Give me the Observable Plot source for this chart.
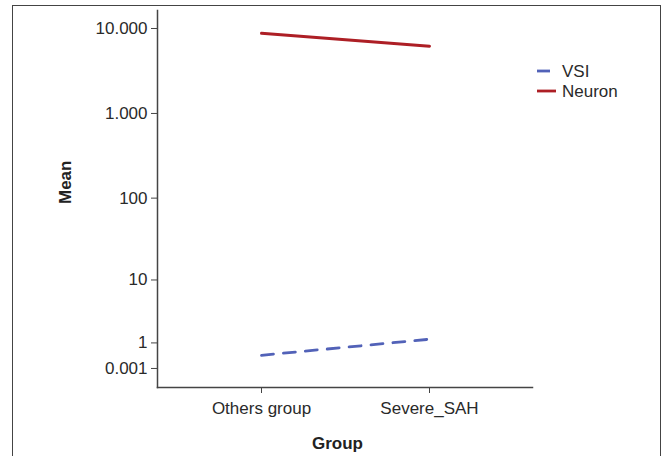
<!DOCTYPE html>
<html><head><meta charset="utf-8">
<script src="https://cdn.jsdelivr.net/npm/d3@7"></script>
<script src="https://cdn.jsdelivr.net/npm/@observablehq/plot@0.6"></script>
<style>
body{margin:0;background:#fff;font-family:"Liberation Sans",Arial,sans-serif;}
#wrap{position:relative;width:662px;height:456px;overflow:hidden;background:#fff;}
#wrap > svg{position:absolute;left:0;top:0;}
#border{position:absolute;left:12px;top:5px;width:649px;height:470px;border:1.5px solid #444;box-sizing:border-box;}
#legend{position:absolute;left:530px;top:55px;}
</style></head><body><div id="wrap"><div id="border"></div></div>
<script>
const groups = ["Others group", "Severe_SAH"];
const series = ["VSI", "Neuron"];
const vsiValues = [0.43, 1.21];
const neuronValues = [8780, 6190];
const yTicks = [0.001, 1, 10, 100, 1000, 10000];
const yTickLabels = ["0.001", "1", "10", "100", "1.000", "10.000"];
const seriesColors = ["#5262b8", "#ad1f25"];
const seriesDash = ["12 10", null];
const xLabel = "Group";
const yLabel = "Mean";

const data = [
  ...groups.map((g, i) => ({group: g, series: "VSI", value: vsiValues[i]})),
  ...groups.map((g, i) => ({group: g, series: "Neuron", value: neuronValues[i]}))
];

const font = '"Liberation Sans", Arial, sans-serif';

const chart = Plot.plot({
  width: 662, height: 456,
  marginLeft: 157, marginRight: 130, marginTop: 10, marginBottom: 69,
  style: {fontFamily: font, fontSize: "17px", color: "#2a2a2a", background: "transparent", overflow: "visible"},
  x: {type: "point", domain: groups, padding: 0.616},
  y: {type: "symlog", domain: [-0.673, 16284]},
  color: {domain: series, range: seriesColors},
  marks: [
    Plot.axisY({ticks: yTicks, tickFormat: d => yTickLabels[yTicks.indexOf(d)], tickSize: 6, tickPadding: 4, label: null, fontSize: 17, stroke: "#444"}),
    Plot.axisX({tickSize: 6, tickPadding: 8, label: null, fontSize: 17, stroke: "#444"}),
    Plot.frame({anchor: "left", stroke: "#444", strokeWidth: 1.5}),
    Plot.frame({anchor: "bottom", stroke: "#444", strokeWidth: 1.5}),
    Plot.line(data, {filter: d => d.series === "Neuron", x: "group", y: "value", stroke: "series", strokeWidth: 3}),
    Plot.line(data, {filter: d => d.series === "VSI", x: "group", y: "value", stroke: "series", strokeWidth: 2.8, strokeDasharray: seriesDash[0]}),
    Plot.text([yLabel], {frameAnchor: "left", rotate: -90, dx: -92, dy: 5, fontWeight: "bold", fontSize: 17, fill: "#222"}),
    Plot.text([xLabel], {frameAnchor: "bottom", dx: -7.5, dy: 61.6, fontWeight: "bold", fontSize: 17, fill: "#222"})
  ]
});
const wrap = document.getElementById("wrap");
wrap.insertBefore(chart, wrap.firstChild);

// legend
const legend = d3.select("#wrap").append("div").attr("id", "legend")
  .append("svg").attr("width", 120).attr("height", 50)
  .style("font-family", font).style("font-size", "17px");
const lens = [13, 19];
series.forEach((s, i) => {
  const y = 16 + i * 20;
  legend.append("line").attr("x1", 7).attr("x2", 7 + lens[i]).attr("y1", y).attr("y2", y)
    .attr("stroke", seriesColors[i]).attr("stroke-width", 2.8);
  legend.append("text").attr("x", 32).attr("y", y + 5.5).attr("fill", "#2a2a2a").text(s);
});
</script></body></html>
